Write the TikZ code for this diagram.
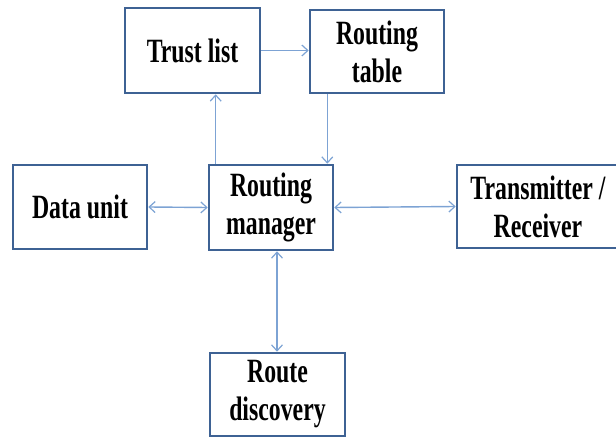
\documentclass[tikz,border=0pt]{standalone}
\usepackage{fontspec}
\newfontfamily\boxfont{Liberation Serif}[FakeStretch=0.7]
\usepackage{tikz}
\usetikzlibrary{arrows.meta}
\definecolor{boxblue}{RGB}{62,98,148}
\definecolor{arrowblue}{RGB}{125,163,212}
\tikzset{
	box/.style={draw=boxblue, line width=2.6pt, fill=white, align=center, inner sep=0pt,
		font=\boxfont\bfseries\fontsize{34}{38}\selectfont},
	conn/.style={draw=arrowblue, line width=1.4pt, -{Straight Barb[length=6pt,width=11pt,line width=1.2pt]}},
	biconn/.style={conn, {Straight Barb[length=6pt,width=11pt,line width=1.2pt]}-{Straight Barb[length=6pt,width=11pt,line width=1.2pt]}}
}

\begin{document}
\begin{tikzpicture}[x=1pt,y=-1pt]
	\useasboundingbox (0,0) rectangle (616,438);
	%boxes
	\node[box, minimum width=135pt, minimum height=85pt] (trust) at (192.5,50.5) {Trust list};
	\node[box, minimum width=134pt, minimum height=83pt] (table) at (377,51.5) {Routing\\table};
	\node[box, minimum width=134pt, minimum height=84pt] (data) at (80,207) {Data unit};
	\node[box, minimum width=124pt, minimum height=85pt] (manager) at (271,207.5) {Routing\\manager};
	\node[box, minimum width=162pt, minimum height=83pt] (trx) at (538,206.5) {Transmitter /\\Receiver};
	\node[box, minimum width=135pt, minimum height=83pt] (discovery) at (277.5,394.5) {Route\\discovery};
	%arrows
	\draw[conn] (trust.east) -- (trust.east -| table.west);
	\draw[conn] ([xshift=8pt]manager.north west) -- ([xshift=8pt]manager.north west |- trust.south);
	\draw[conn] ([xshift=-7pt]manager.north east |- table.south) -- ([xshift=-7pt]manager.north east);
	\draw[biconn] (data.east) -- (manager.west);
	\draw[biconn] (manager.east) -- (trx.west);
	\draw[biconn] ([xshift=6pt]manager.south) -- ([xshift=6pt]manager.south |- discovery.north);
\end{tikzpicture}
\end{document}
